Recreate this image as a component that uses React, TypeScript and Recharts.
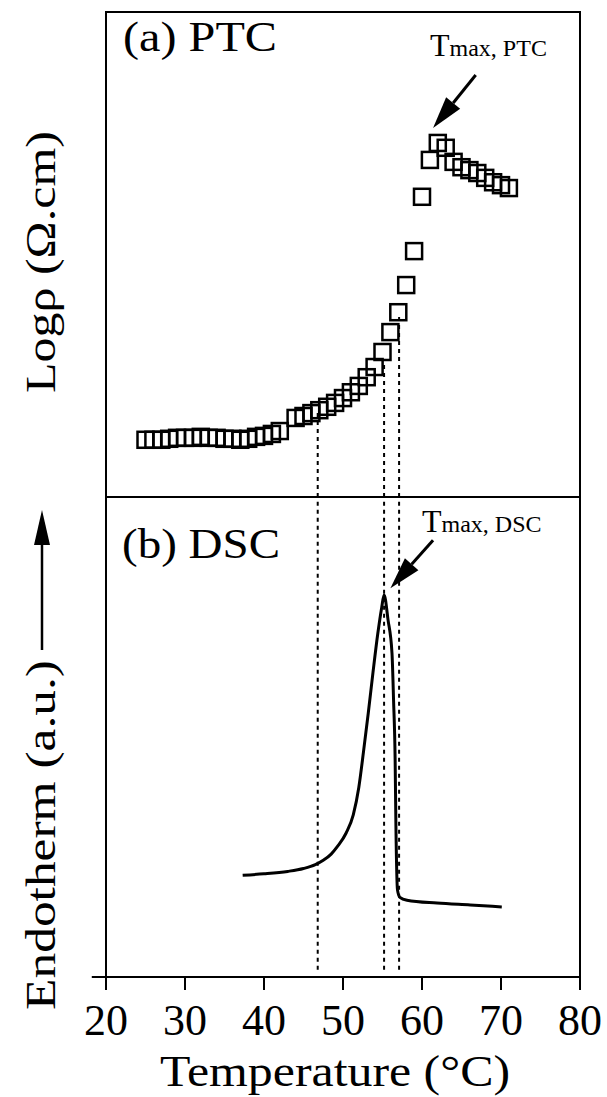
import React from "react";
import {
  ScatterChart,
  Scatter,
  LineChart,
  Line,
  XAxis,
  YAxis,
  ReferenceArea,
  ReferenceLine,
} from "recharts";

// ---- PTC data (log resistivity vs temperature) ----
const ptcTemps = [
  25, 26, 27, 28, 29, 30, 31, 32, 33, 34, 35, 36, 37, 38, 39, 40, 41, 42,
  44, 45, 46, 47, 48, 49, 50, 51, 52, 53, 54, 55, 56, 57, 58, 59, 60, 61,
  62, 63, 64, 65, 66, 67, 68, 69, 70, 71,
];
const ptcLogRho = [
  2.18, 2.18, 2.18, 2.2, 2.22, 2.22, 2.22, 2.24, 2.22, 2.22, 2.2, 2.2, 2.18,
  2.2, 2.24, 2.26, 2.3, 2.36, 2.63, 2.67, 2.73, 2.79, 2.86, 2.94, 3.04, 3.16,
  3.29, 3.47, 3.68, 3.99, 4.4, 4.81, 5.37, 6.07, 7.19, 7.95, 8.3, 8.2, 7.91,
  7.8, 7.74, 7.68, 7.58, 7.49, 7.43, 7.37,
];

// ---- DSC data (endotherm, arbitrary units) ----
const dscTemps = [
  37.3, 40, 43, 45, 46.5, 47.5, 48.5, 49.3, 50.4, 51.3, 52.0, 52.6, 53.2,
  53.8, 54.4, 54.9, 55.2, 55.7, 56.2, 56.4, 56.6, 56.7, 56.9, 57.2, 58.1,
  61.9, 66.1, 70.1,
];
const dscSignal = [
  2.12, 2.15, 2.2, 2.26, 2.34, 2.43, 2.56, 2.72, 3.0, 3.38, 3.95, 4.7, 5.5,
  6.35, 7.15, 7.7, 7.96, 7.44, 6.75, 5.77, 4.52, 3.13, 1.81, 1.66, 1.6, 1.54,
  1.5, 1.46,
];

// ---- axis / annotation values ----
const xTicks = [20, 30, 40, 50, 60, 70, 80];
const xDomain: [number, number] = [20, 80];
const ptcDomain: [number, number] = [1, 11];
const dscDomain: [number, number] = [0, 10];
const guideTemps = [46.8, 55.2, 57.1];
const guideTopPtc = [2.8, 3.76, 4.71];
const ptcArrow = [
  { x: 66.8, y: 9.7 },
  { x: 61.4, y: 8.61 },
];
const dscArrow = [
  { x: 61.4, y: 9.1 },
  { x: 56.0, y: 8.1 },
];

const ptcData = ptcTemps.map((t, i) => ({ t, r: ptcLogRho[i] }));
const dscData = dscTemps.map((t, i) => ({ t, s: dscSignal[i] }));

const FONT = "'Liberation Serif', 'Times New Roman', serif";

const Square = (props: any) => {
  const { cx, cy } = props;
  if (cx == null || cy == null) return null;
  return (
    <rect
      x={cx - 8}
      y={cy - 8}
      width={16}
      height={16}
      fill="none"
      stroke="#000"
      strokeWidth={2.5}
    />
  );
};

const ArrowShape = (props: any) => {
  const { x1, y1, x2, y2 } = props;
  if ([x1, y1, x2, y2].some((v) => v == null || isNaN(v))) return null;
  const dx = x2 - x1;
  const dy = y2 - y1;
  const len = Math.sqrt(dx * dx + dy * dy);
  const ux = dx / len;
  const uy = dy / len;
  const headLen = 32;
  const headHalf = 9;
  const bx = x2 - ux * headLen;
  const by = y2 - uy * headLen;
  const px = -uy * headHalf;
  const py = ux * headHalf;
  return (
    <g>
      <line x1={x1} y1={y1} x2={bx} y2={by} stroke="#000" strokeWidth={3} />
      <polygon
        points={`${x2},${y2} ${bx + px},${by + py} ${bx - px},${by - py}`}
        fill="#000"
      />
    </g>
  );
};

export default function App() {
  return (
    <div
      style={{
        position: "absolute",
        left: 0,
        top: 0,
        width: 607,
        height: 1097,
        background: "#fff",
        overflow: "hidden",
      }}
    >
      {/* (a) PTC panel */}
      <div style={{ position: "absolute", left: 0, top: 0 }}>
        <ScatterChart
          width={607}
          height={510}
          margin={{ top: 12, right: 27, bottom: 13, left: 106 }}
        >
          <XAxis
            type="number"
            dataKey="t"
            domain={xDomain}
            ticks={xTicks}
            hide
          />
          <YAxis type="number" dataKey="r" domain={ptcDomain} hide />
          <ReferenceArea
            x1={xDomain[0]}
            x2={xDomain[1]}
            y1={ptcDomain[0]}
            y2={ptcDomain[1]}
            fill="none"
            stroke="#000"
            strokeWidth={2}
            ifOverflow="visible"
          />
          {guideTemps.map((g, i) => (
            <ReferenceLine
              key={i}
              segment={[
                { x: g, y: ptcDomain[0] },
                { x: g, y: guideTopPtc[i] },
              ]}
              stroke="#000"
              strokeWidth={2}
              strokeDasharray="4 4"
            />
          ))}
          <Scatter
            data={ptcData}
            shape={<Square />}
            isAnimationActive={false}
          />
          <ReferenceLine
            segment={ptcArrow}
            shape={<ArrowShape />}
            ifOverflow="visible"
          />
        </ScatterChart>
      </div>

      {/* (b) DSC panel */}
      <div style={{ position: "absolute", left: 0, top: 497 }}>
        <LineChart
          width={607}
          height={600}
          data={dscData}
          margin={{ top: 0, right: 27, bottom: 0, left: 106 }}
        >
          <XAxis
            type="number"
            dataKey="t"
            domain={xDomain}
            ticks={xTicks}
            height={120}
            tickSize={13}
            tickMargin={14}
            axisLine={{ stroke: "#000", strokeWidth: 2 }}
            tickLine={{ stroke: "#000", strokeWidth: 2 }}
            tick={{ fill: "#000", fontSize: 44, fontFamily: FONT }}
          />
          <YAxis type="number" domain={dscDomain} hide />
          <ReferenceArea
            x1={xDomain[0]}
            x2={xDomain[1]}
            y1={dscDomain[0]}
            y2={dscDomain[1]}
            fill="none"
            stroke="#000"
            strokeWidth={2}
            ifOverflow="visible"
          />
          <ReferenceLine
            segment={[
              { x: 18.2, y: dscDomain[0] },
              { x: xDomain[0], y: dscDomain[0] },
            ]}
            stroke="#000"
            strokeWidth={2}
            ifOverflow="visible"
          />
          {guideTemps.map((g, i) => (
            <ReferenceLine
              key={i}
              segment={[
                { x: g, y: 0.15 },
                { x: g, y: dscDomain[1] },
              ]}
              stroke="#000"
              strokeWidth={2}
              strokeDasharray="4 4"
            />
          ))}
          <Line
            type="monotone"
            dataKey="s"
            stroke="#000"
            strokeWidth={3}
            dot={false}
            isAnimationActive={false}
          />
          <ReferenceLine
            segment={dscArrow}
            shape={<ArrowShape />}
            ifOverflow="visible"
          />
        </LineChart>
      </div>

      {/* text overlay */}
      <svg
        width={607}
        height={1097}
        style={{ position: "absolute", left: 0, top: 0, pointerEvents: "none" }}
        fontFamily={FONT}
      >
        <text x={123} y={51} fontSize={42} textLength={154} lengthAdjust="spacingAndGlyphs">
          (a) PTC
        </text>
        <text x={430} y={56} fontSize={32}>
          T<tspan fontSize={24}>max, PTC</tspan>
        </text>
        <text x={122} y={558} fontSize={42} textLength={158} lengthAdjust="spacingAndGlyphs">
          (b) DSC
        </text>
        <text x={422} y={532} fontSize={32}>
          T<tspan fontSize={24}>max, DSC</tspan>
        </text>
        <text
          x={335}
          y={1086}
          fontSize={44}
          textAnchor="middle"
          textLength={350}
          lengthAdjust="spacingAndGlyphs"
        >
          Temperature (°C)
        </text>
        <text
          transform="translate(55,262) rotate(-90)"
          fontSize={42}
          textAnchor="middle"
          textLength={262}
          lengthAdjust="spacingAndGlyphs"
        >
          Logρ (Ω.cm)
        </text>
        <text
          transform="translate(55,835) rotate(-90)"
          fontSize={42}
          textAnchor="middle"
          textLength={350}
          lengthAdjust="spacingAndGlyphs"
        >
          Endotherm (a.u.)
        </text>
        <line x1={42} y1={650} x2={42} y2={540} stroke="#000" strokeWidth={2.5} />
        <polygon points="42,510 34,545 50,545" fill="#000" />
      </svg>
    </div>
  );
}
